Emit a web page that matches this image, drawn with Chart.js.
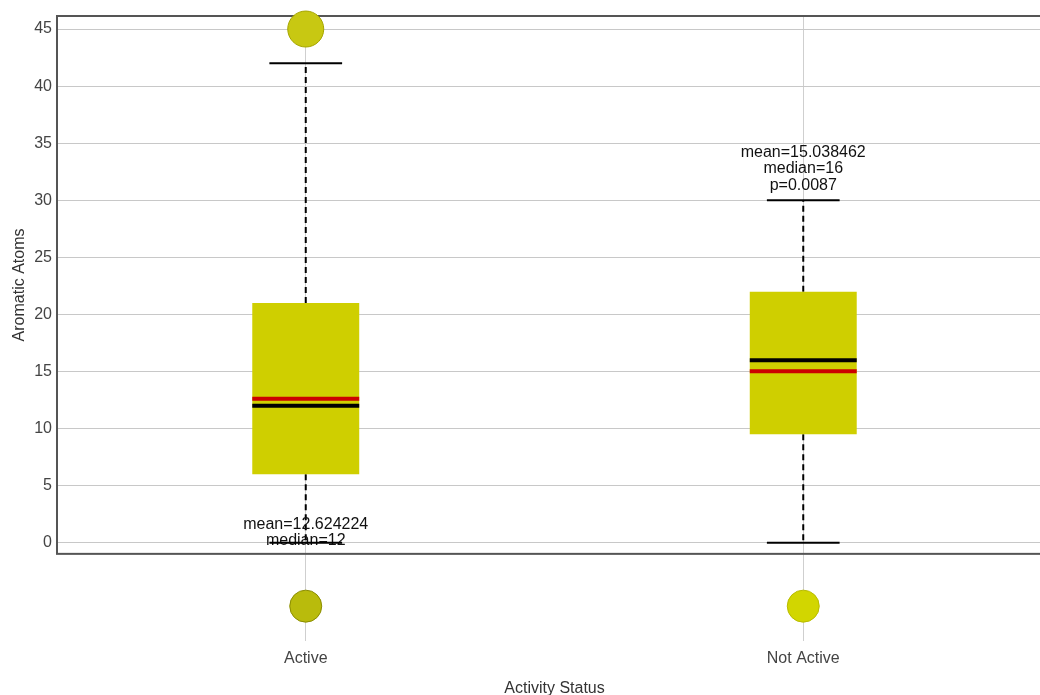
<!DOCTYPE html>
<html>
<head>
<meta charset="UTF-8">
<title>Aromatic Atoms by Activity Status</title>
<script src="https://cdn.jsdelivr.net/npm/chart.js@4.4.1/dist/chart.umd.min.js"></script>
<style>
html, body { margin: 0; padding: 0; background: #fff; overflow: hidden; }
#boxChart { display: block; width: 1052px; height: 695px; }
</style>
</head>
<body>
<canvas id="boxChart" width="1052" height="695"></canvas>
<script>
// box plot stats
const groups = ['Active', 'Not Active'];
const q1 = [6, 9.5];
const q3 = [21, 22];
const medians = [12, 16];
const means = [12.624224, 15.038462];
const whiskerLow = [0, 0];
const whiskerHigh = [42, 30];
const outliers = [[45], []];
const pValue = '0.0087';
const noteSide = ['low', 'high'];   // where the mean/median text sits
const yTicks = [0, 5, 10, 15, 20, 25, 30, 35, 40, 45];

const FONT = "'Liberation Sans', Arial, sans-serif";

const notes = groups.map((g, i) => {
  let lines = ['mean=' + means[i], 'median=' + medians[i]];
  if (noteSide[i] === 'high') lines.push('p=' + pValue);
  return lines;
});

const outlierPts = [];
outliers.forEach((list, i) => list.forEach(v => outlierPts.push({x: groups[i], y: v})));

// keep chart.js from reserving room for half tick labels
const noPad = (s) => { s.paddingTop = 0; s.paddingBottom = 0; s.paddingLeft = 0; s.paddingRight = 0; };

const boxParts = {
  id: 'boxParts',
  beforeDatasetsDraw(chart) {
    const {ctx, chartArea, scales: {x, y}} = chart;
    ctx.save();
    // plot frame
    ctx.strokeStyle = '#555';
    ctx.lineWidth = 2;
    ctx.strokeRect(chartArea.left, y.top, chartArea.right - chartArea.left, y.bottom - y.top);
    // dashed whiskers
    ctx.strokeStyle = '#000';
    ctx.setLineDash([6, 4]);
    groups.forEach((g, i) => {
      const px = x.getPixelForValue(i);
      ctx.beginPath();
      ctx.moveTo(px, y.getPixelForValue(q3[i]));
      ctx.lineTo(px, y.getPixelForValue(whiskerHigh[i]));
      ctx.moveTo(px, y.getPixelForValue(q1[i]));
      ctx.lineTo(px, y.getPixelForValue(whiskerLow[i]));
      ctx.stroke();
    });
    ctx.restore();
  },
  afterDatasetsDraw(chart) {
    const {ctx, scales: {x, y}} = chart;
    const meta = chart.getDatasetMeta(0);
    ctx.save();
    groups.forEach((g, i) => {
      const px = x.getPixelForValue(i);
      const half = meta.data[i].width / 2;
      const capHalf = half * 0.68;
      // mean (red) and median (black)
      ctx.lineWidth = 4;
      ctx.strokeStyle = '#cc0000';
      ctx.beginPath();
      ctx.moveTo(px - half, y.getPixelForValue(means[i]));
      ctx.lineTo(px + half, y.getPixelForValue(means[i]));
      ctx.stroke();
      ctx.strokeStyle = '#000';
      ctx.beginPath();
      ctx.moveTo(px - half, y.getPixelForValue(medians[i]));
      ctx.lineTo(px + half, y.getPixelForValue(medians[i]));
      ctx.stroke();
      // text
      ctx.fillStyle = '#111';
      ctx.font = '16px ' + FONT;
      ctx.textAlign = 'center';
      ctx.textBaseline = 'middle';
      const lines = notes[i];
      let lastY = noteSide[i] === 'high'
        ? y.getPixelForValue(whiskerHigh[i]) - 15
        : y.getPixelForValue(whiskerLow[i]) - 2;
      lines.forEach((t, k) => {
        ctx.fillText(t, px, lastY - (lines.length - 1 - k) * 16.5);
      });
      // caps
      ctx.lineWidth = 2;
      ctx.strokeStyle = '#000';
      ctx.beginPath();
      [whiskerLow[i], whiskerHigh[i]].forEach(v => {
        ctx.moveTo(px - capHalf, y.getPixelForValue(v));
        ctx.lineTo(px + capHalf, y.getPixelForValue(v));
      });
      ctx.stroke();
    });
    ctx.restore();
  }
};

new Chart(document.getElementById('boxChart'), {
  type: 'bar',
  data: {
    labels: groups,
    datasets: [
      {
        label: 'box',
        data: groups.map((g, i) => [q1[i], q3[i]]),
        backgroundColor: '#cfcf00',
        borderWidth: 0,
        barPercentage: 0.215,
        categoryPercentage: 1,
        yAxisID: 'y',
        order: 2
      },
      {
        type: 'scatter',
        label: 'outliers',
        data: outlierPts,
        pointRadius: 18,
        backgroundColor: '#c8c812',
        borderColor: '#a5a500',
        borderWidth: 1,
        clip: false,
        yAxisID: 'y',
        order: 1
      },
      {
        type: 'scatter',
        label: 'groups',
        data: groups.map(g => ({x: g, y: 0})),
        pointRadius: 16,
        backgroundColor: ['#b9bb0c', '#d2d600'],
        borderColor: ['#8a8c00', '#b8bb00'],
        borderWidth: 1,
        clip: false,
        yAxisID: 'y2',
        order: 1
      }
    ]
  },
  options: {
    responsive: false,
    animation: false,
    layout: { autoPadding: false, padding: { left: 10, top: 16, right: 0, bottom: 0 } },
    plugins: {
      legend: { display: false },
      tooltip: { enabled: false }
    },
    scales: {
      x: {
        type: 'category',
        offset: true,
        afterFit: noPad,
        grid: { offset: false, color: '#cfcfcf', lineWidth: 1, drawTicks: false },
        border: { display: false },
        ticks: { color: '#444', padding: 8, font: { family: FONT, size: 16 } },
        title: { display: true, text: 'Activity Status', color: '#333',
                 padding: { top: 6, bottom: 0 }, font: { family: FONT, size: 16, lineHeight: 0.8 } }
      },
      y: {
        type: 'linear',
        position: 'left',
        stack: 'rows',
        stackWeight: 537,
        weight: 2,
        min: -0.965,
        max: 46.14,
        afterBuildTicks: (s) => { s.ticks = yTicks.map(v => ({value: v})); },
        afterFit: noPad,
        grid: { color: '#c8c8c8', lineWidth: 1, drawTicks: false },
        border: { display: true, color: '#555', width: 2 },
        ticks: { color: '#444', padding: 5, font: { family: FONT, size: 16 } },
        title: { display: true, text: 'Aromatic Atoms', color: '#333',
                 padding: { top: 0, bottom: 0 }, font: { family: FONT, size: 16 } }
      },
      y2: {
        type: 'linear',
        position: 'left',
        stack: 'rows',
        stackWeight: 87,
        weight: 1,
        min: -0.8,
        max: 1.2,
        afterFit: noPad,
        grid: { display: false },
        border: { display: false },
        ticks: { display: false }
      }
    }
  },
  plugins: [boxParts]
});
</script>
</body>
</html>
